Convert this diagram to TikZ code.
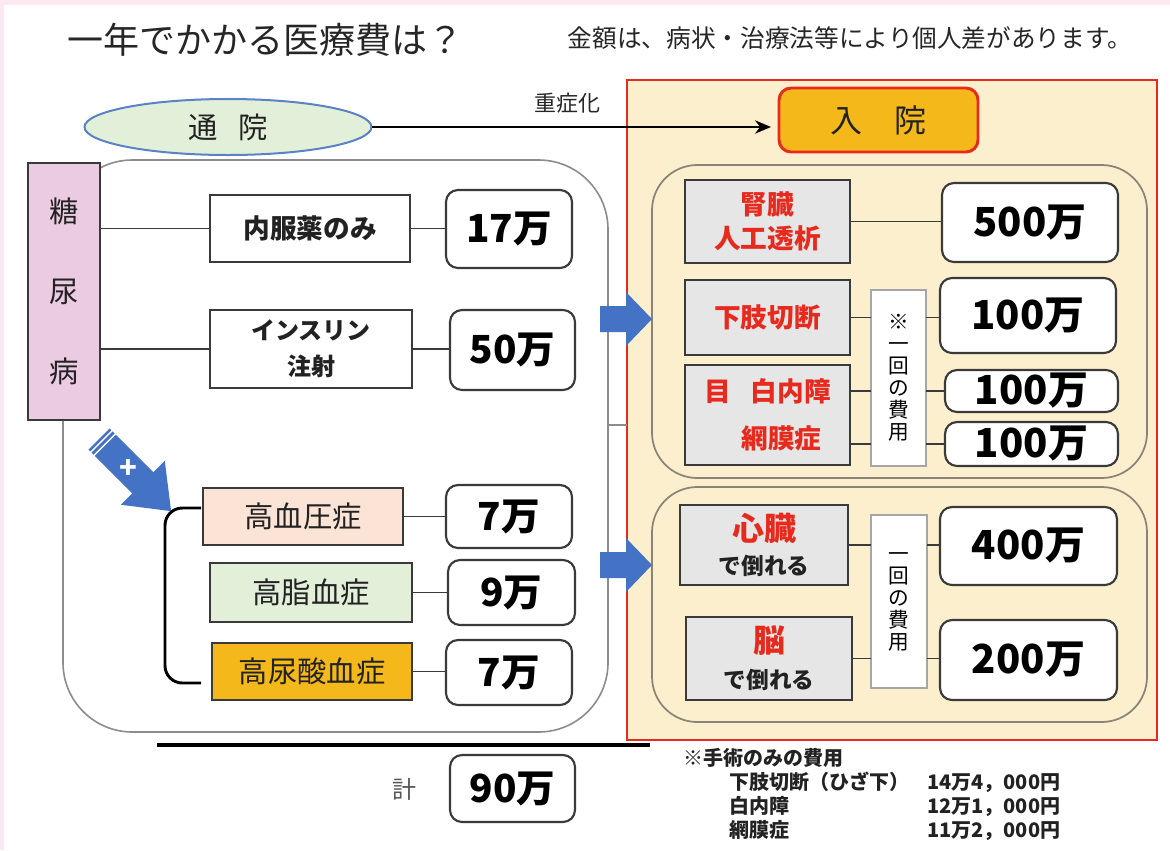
\documentclass[tikz,border=0pt]{standalone}
\usepackage{fontspec}
\setmainfont{Noto Sans CJK JP}
\usetikzlibrary{arrows.meta,shapes.geometric}
\definecolor{pinkm}{HTML}{FCE8F1}
\definecolor{titlec}{HTML}{262626}
\definecolor{txt}{HTML}{222222}
\definecolor{bluee}{HTML}{5B82C6}
\definecolor{lgreen}{HTML}{E2EFD9}
\definecolor{redc}{HTML}{E62A1E}
\definecolor{beige}{HTML}{FCEFCD}
\definecolor{orangey}{HTML}{F4B81A}
\definecolor{pinkf}{HTML}{EBCBE1}
\definecolor{peach}{HTML}{FBE4D6}
\definecolor{grayf}{HTML}{E6E6E6}
\definecolor{bluea}{HTML}{4472C4}
\definecolor{dkgray}{HTML}{3A3A3A}
\definecolor{innerc}{HTML}{8A8478}
\definecolor{groupc}{HTML}{8C8C8C}
\definecolor{vgray}{HTML}{A6A6A6}
\definecolor{keic}{HTML}{555555}
\newcommand{\bxn}[7]{\node[#1, minimum width={(#5-#3)*0.75pt}, minimum height={(#6-#4)*0.75pt}] (#2) at ({(#3+#5)/2},{(#4+#6)/2}) {#7};}
\begin{document}
\begin{tikzpicture}[x=0.75pt,y=-0.75pt,
  mybase/.style={inner sep=0pt, outer sep=0pt},
  sqbox/.style={mybase, draw=dkgray, line width=1.5pt, fill=white, text=txt, font=\bfseries\fontsize{20}{26}\selectfont, align=center},
  amt/.style={mybase, draw=dkgray, line width=1.6pt, fill=white, rounded corners=9pt, text=black, font=\bfseries\fontsize{29}{32}\selectfont},
  disbox/.style={mybase, draw=dkgray, line width=1.5pt, text=txt, font=\fontsize{22}{26}\selectfont},
  graybox/.style={mybase, draw=dkgray, line width=1.6pt, fill=grayf, text=redc, font=\bfseries\fontsize{20}{25}\selectfont, align=center},
  vnote/.style={mybase, draw=vgray, line width=2.2pt, fill=white, text=black, font=\fontsize{15.5}{16.5}\selectfont, align=center},
  conn/.style={draw=dkgray, line width=1.4pt},
  lgroupstyle/.style={mybase, draw=groupc, line width=1.2pt, rounded corners=52pt},
  innergrp/.style={mybase, draw=innerc, line width=1.3pt, rounded corners=34pt},
  bluearrow/.style={fill=bluea}
]
\useasboundingbox (0,0) rectangle (1170,850);
\fill[white] (0,0) rectangle (1170,850);
\fill[pinkm] (0,0) rectangle (1170,5);
\fill[pinkm] (0,0) rectangle (4,850);

% titles
\node[font=\fontsize{27}{30}\selectfont, text=titlec] (title) at (265,40) {一年でかかる医療費は？};
\node[font=\fontsize{18.5}{22}\selectfont, text=titlec] (caution) at (850,38) {金額は、病状・治療法等により個人差があります。};
\node[font=\fontsize{16.5}{20}\selectfont, text=titlec] (jusho) at (567,103) {重症化};

% red inpatient panel
\bxn{mybase, draw=redc, line width=2.2pt, fill=beige}{panel}{627}{80}{1157}{740}{}
\bxn{innergrp}{igup}{652}{165}{1147}{478}{}
\bxn{innergrp}{igdown}{652}{487}{1147}{722}{}

% left group
\bxn{lgroupstyle}{lgroup}{63}{160}{608}{732}{}

% outpatient ellipse and inpatient box
\node[ellipse, draw=bluee, line width=1.5pt, fill=lgreen, minimum width={287*0.75pt}, minimum height={56*0.75pt}, inner sep=0pt, outer sep=0pt, font=\fontsize{22}{26}\selectfont, text=txt] (tsuin) at (228,127) {通\hspace{0.7em}院};
\bxn{mybase, draw=redc, line width=2.2pt, fill=orangey, rounded corners=9pt, font=\fontsize{24}{28}\selectfont, text=txt}{nyuin}{779}{88}{978}{152}{入\hspace{1em}院}
\draw[-{Stealth[length=12pt,width=10pt]}, line width=1.8pt, shorten >=6pt] (tsuin.east) -- (nyuin.west |- tsuin.east);

% diabetes
\bxn{mybase, draw=dkgray, line width=1.5pt, fill=pinkf, align=center, font=\fontsize{22}{60}\selectfont, text=txt}{tnb}{28}{163}{100}{420}{糖\\尿\\病}
\bxn{sqbox}{naifuku}{210}{195}{410}{262}{内服薬のみ}
\bxn{amt}{a17}{446}{190}{572}{268}{17万}
\bxn{sqbox, font=\bfseries\fontsize{18}{27}\selectfont}{insulin}{210}{310}{412}{388}{インスリン\\注射}
\bxn{amt}{a50}{450}{310}{575}{390}{50万}
\draw[conn] (tnb.east |- naifuku.west) -- (naifuku.west);
\draw[conn] (naifuku.east) -- (naifuku.east -| a17.west);
\draw[conn] (tnb.east |- insulin.west) -- (insulin.west);
\draw[conn] (insulin.east) -- (insulin.east -| a50.west);

% diagonal plus arrow
\begin{scope}[shift={(99,439)}, rotate=-45]
  \fill[bluea] (0,-15) -- (62,-15) -- (62,-31) -- (102,0) -- (62,31) -- (62,15) -- (0,15) -- cycle;
  \draw[white, line width=1.1pt] (3.5,-16) -- (3.5,16);
  \draw[white, line width=1.1pt] (8,-16) -- (8,16);
  \node[text=white, font=\bfseries\fontsize{22}{22}\selectfont, inner sep=0pt] (plus) at (42,0) {+};
\end{scope}

% complications
\bxn{disbox, fill=peach}{hbp}{203}{488}{403}{545}{高血圧症}
\bxn{amt}{a7a}{446}{485}{572}{548}{7万}
\bxn{disbox, fill=lgreen}{hlip}{210}{563}{412}{622}{高脂血症}
\bxn{amt}{a9}{448}{560}{575}{625}{9万}
\bxn{disbox, fill=orangey}{huric}{212}{643}{412}{700}{高尿酸血症}
\bxn{amt}{a7b}{446}{640}{572}{705}{7万}
\draw[conn] (hbp.east) -- (hbp.east -| a7a.west);
\draw[conn] (hlip.east) -- (hlip.east -| a9.west);
\draw[conn] (huric.east) -- (huric.east -| a7b.west);
\coordinate (brtop) at (201,508);
\coordinate (brbot) at (201,683);
\draw[line width=2.2pt, rounded corners=13pt] (brtop) -- (165,508) -- (165,683) -- (brbot);

% total
\coordinate (totl) at (157,745);
\coordinate (totr) at (650,745);
\draw[line width=2.4pt] (totl) -- (totr);
\node[font=\fontsize{18}{20}\selectfont, text=keic] (kei) at (404,789) {計};
\bxn{amt}{a90}{450}{755}{575}{822}{90万}

% short tick between groups
\draw[draw=groupc, line width=1.2pt] (lgroup.east |- 0,425) -- (panel.west |- 0,425);

% blue arrows into panel
\fill[bluea] (600,306) -- (626,306) -- (626,292) -- (652,319) -- (626,346) -- (626,332) -- (600,332) -- cycle;
\fill[bluea] (600,552) -- (626,552) -- (626,538) -- (652,565) -- (626,592) -- (626,578) -- (600,578) -- cycle;

% upper inpatient group
\bxn{graybox}{kidney}{685}{180}{850}{263}{腎臓\\人工透析}
\bxn{amt, font=\bfseries\fontsize{30}{32}\selectfont}{a500}{942}{183}{1118}{262}{500万}
\bxn{graybox}{leg}{685}{280}{850}{355}{下肢切断}
\bxn{vnote}{noteA}{871}{290}{926}{466}{※\\一\\回\\の\\費\\用}
\bxn{amt, font=\bfseries\fontsize{30}{32}\selectfont}{a100a}{940}{278}{1116}{353}{100万}
\bxn{graybox, font=\bfseries\fontsize{20}{35}\selectfont}{eye}{685}{365}{850}{465}{目\hspace{0.75em}白内障\\\rule{21pt}{0pt}網膜症}
\bxn{amt, font=\bfseries\fontsize{30}{32}\selectfont}{a100b}{945}{370}{1118}{412}{100万}
\bxn{amt, font=\bfseries\fontsize{30}{32}\selectfont}{a100c}{945}{422}{1118}{466}{100万}
\draw[conn] (kidney.east) -- (kidney.east -| a500.west);
\draw[conn] (leg.east) -- (leg.east -| noteA.west);
\draw[conn] (noteA.east |- leg.east) -- (leg.east -| a100a.west);
\draw[conn] (eye.east |- a100b.west) -- (noteA.west |- a100b.west);
\draw[conn] (noteA.east |- a100b.west) -- (a100b.west);
\draw[conn] (eye.east |- a100c.west) -- (noteA.west |- a100c.west);
\draw[conn] (noteA.east |- a100c.west) -- (a100c.west);

% lower inpatient group
\bxn{graybox, text=txt, font=\bfseries\fontsize{17}{25}\selectfont}{heart}{680}{505}{848}{585}{{\fontsize{24}{25}\selectfont\color{redc}心臓}\\で倒れる}
\bxn{vnote}{noteB}{871}{515}{927}{688}{一\\回\\の\\費\\用}
\bxn{amt, font=\bfseries\fontsize{30}{32}\selectfont}{a400}{940}{507}{1117}{585}{400万}
\bxn{graybox, text=txt, font=\bfseries\fontsize{17}{27}\selectfont}{brain}{686}{617}{852}{700}{{\fontsize{24}{27}\selectfont\color{redc}脳}\\で倒れる}
\bxn{amt, font=\bfseries\fontsize{30}{32}\selectfont}{a200}{940}{620}{1117}{700}{200万}
\draw[conn] (heart.east) -- (heart.east -| noteB.west);
\draw[conn] (noteB.east |- heart.east) -- (heart.east -| a400.west);
\draw[conn] (brain.east) -- (brain.east -| noteB.west);
\draw[conn] (noteB.east |- brain.east) -- (brain.east -| a200.west);

% footnote
\node[anchor=north west, align=left, inner sep=0pt, font=\bfseries\fontsize{15}{18}\selectfont, text=txt] (foot) at (683,748)
 {※手術のみの費用\\
  \hspace*{35pt}\makebox[148pt][l]{下肢切断（ひざ下）}14万4，000円\\
  \hspace*{35pt}\makebox[148pt][l]{白内障}12万1，000円\\
  \hspace*{35pt}\makebox[148pt][l]{網膜症}11万2，000円};
\end{tikzpicture}
\end{document}
